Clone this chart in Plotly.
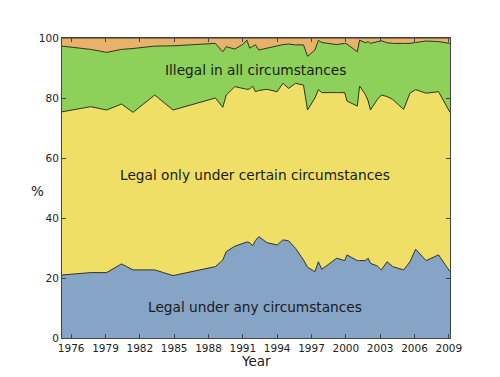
import plotly.graph_objects as go

# Poll dates (decimal years)
years = [1975.2, 1977.7, 1979.1, 1980.4, 1981.4, 1983.3, 1984.9, 1988.6, 1989.25, 1989.55,
         1990.3, 1991.05, 1991.35, 1991.6, 1991.85, 1992.1, 1992.4, 1993.1, 1994.0, 1994.5,
         1995.0, 1995.6, 1996.3, 1996.65, 1997.3, 1997.6, 1997.9, 1999.2, 1999.9, 2000.1,
         2001.0, 2001.2, 2001.7, 2001.95, 2002.15, 2002.75, 2003.1, 2003.6, 2004.1, 2005.05,
         2005.6, 2006.1, 2007.0, 2008.1, 2009.1]

# Cumulative boundaries
bound1 = [21.0, 21.8, 21.8, 24.7, 22.7, 22.7, 20.8, 23.8, 26.0, 28.8,
          30.6, 31.5, 32.0, 31.8, 30.7, 32.5, 33.8, 31.8, 31.0, 32.7,
          32.4, 29.9, 26.0, 23.6, 22.1, 25.4, 22.9, 26.6, 25.8, 27.7,
          25.8, 25.8, 25.8, 26.6, 24.9, 24.0, 22.7, 25.4, 23.8, 22.7,
          25.4, 29.6, 25.8, 27.7, 22.1]
bound2 = [75.4, 77.1, 76.0, 78.0, 75.2, 81.0, 76.0, 80.0, 76.9, 81.0,
          83.8, 83.2, 82.9, 83.0, 84.0, 82.1, 82.5, 82.9, 82.1, 84.9,
          83.2, 84.9, 84.3, 76.0, 80.0, 82.8, 81.8, 81.8, 81.8, 79.0,
          77.3, 84.0, 81.2, 79.0, 76.0, 79.5, 81.0, 80.5, 79.5, 76.2,
          81.6, 82.8, 81.6, 82.1, 75.2]
bound3 = [97.3, 96.2, 95.2, 96.2, 96.5, 97.3, 97.4, 98.2, 95.4, 97.1,
          96.3, 98.0, 99.3, 96.6, 97.2, 97.7, 96.0, 96.6, 97.4, 97.8,
          98.0, 97.7, 97.7, 93.9, 96.0, 99.2, 98.5, 97.8, 98.2, 98.0,
          95.4, 99.3, 98.4, 98.8, 98.2, 98.8, 99.1, 98.4, 98.2, 98.2,
          98.2, 98.5, 99.0, 98.8, 98.2]

legal_any = bound1
legal_certain = [round(b - a, 1) for a, b in zip(bound1, bound2)]
illegal_all = [round(c - b, 1) for b, c in zip(bound2, bound3)]
no_opinion = [round(100 - c, 1) for c in bound3]

series = [
    ("Legal under any circumstances", legal_any, "#86a4c6"),
    ("Legal only under certain circumstances", legal_certain, "#efdf66"),
    ("Illegal in all circumstances", illegal_all, "#8dd05a"),
    ("No opinion", no_opinion, "#e9b26c"),
]

tick_years = list(range(1976, 2010, 3))

fig = go.Figure()
for name, vals, col in series:
    fig.add_trace(go.Scatter(
        x=years, y=vals, name=name, stackgroup="one", mode="lines",
        line=dict(color="#2b3320", width=1), fillcolor=col,
        hoverinfo="x+y+name",
    ))

font = "DejaVu Sans"
# page body has an 8px default margin; figure is sized to fill the rest
W, H = 492, 369
L, R, T, B = 54, 50, 30, 39
pw, ph = W - L - R, H - T - B

def px_to_paper(xp, yp):
    # xp, yp are page pixel coordinates (top-left origin)
    return (xp - 8 - L) / pw, (H - B - (yp - 8)) / ph

pct_x, pct_y = px_to_paper(37, 191)
yr_x, yr_y = px_to_paper(256, 361)

fig.update_layout(
    width=W, height=H,
    margin=dict(l=L, r=R, t=T, b=B),
    paper_bgcolor="white", plot_bgcolor="white",
    showlegend=False,
    font=dict(family=font, color="#222222"),
    xaxis=dict(range=[1975.2, 2009.1], tickvals=tick_years,
               ticktext=[str(t) for t in tick_years],
               ticks="inside", ticklen=4, tickcolor="#444", showline=True,
               linecolor="#444", linewidth=1, mirror="ticks", showgrid=False,
               zeroline=False, tickfont=dict(size=10.5, family=font)),
    yaxis=dict(range=[0, 100], tickvals=[0, 20, 40, 60, 80, 100],
               ticks="inside", ticklen=4, tickcolor="#444", showline=True,
               linecolor="#444", linewidth=1, mirror="ticks", showgrid=False,
               zeroline=False, tickfont=dict(size=10.5, family=font)),
    annotations=[
        dict(x=1992.1, y=89.5, xref="x", yref="y", text="Illegal in all circumstances",
             showarrow=False, font=dict(size=13.7, family=font, color="#1a1a1a")),
        dict(x=1992.1, y=54.2, xref="x", yref="y", text="Legal only under certain circumstances",
             showarrow=False, font=dict(size=13.7, family=font, color="#1a1a1a")),
        dict(x=1992.1, y=10.2, xref="x", yref="y", text="Legal under any circumstances",
             showarrow=False, font=dict(size=13.7, family=font, color="#1a1a1a")),
        dict(x=pct_x, y=pct_y, xref="paper", yref="paper", text="%", showarrow=False,
             xanchor="center", yanchor="middle",
             font=dict(size=13.5, family=font, color="#1a1a1a")),
        dict(x=yr_x, y=yr_y, xref="paper", yref="paper", text="Year", showarrow=False,
             xanchor="center", yanchor="middle",
             font=dict(size=13.5, family=font, color="#1a1a1a")),
    ],
)

fig.write_html("out.html")
